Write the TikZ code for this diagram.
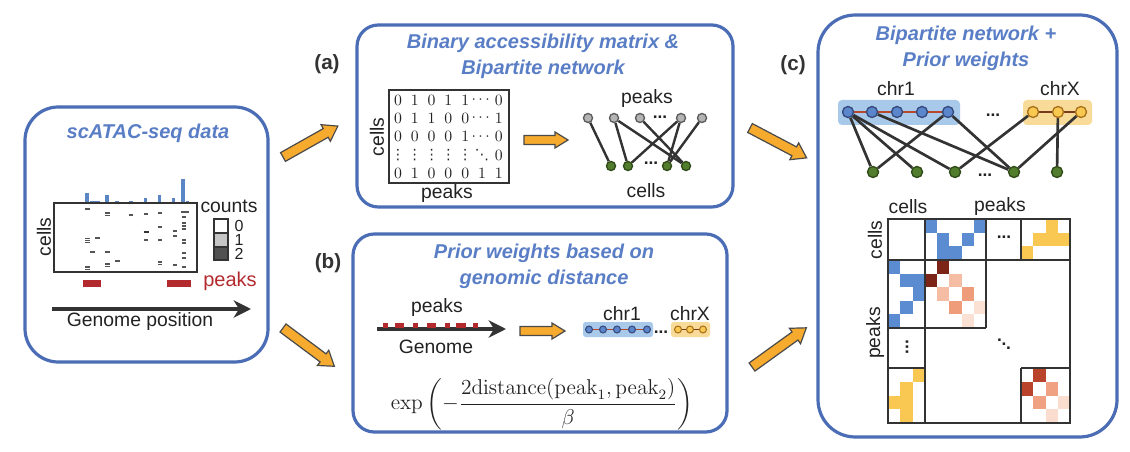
\documentclass[tikz,border=0pt]{standalone}
\usepackage{amsmath}
\usepackage[no-math]{fontspec}
\setmainfont{Liberation Sans}
\newfontfamily\djv{DejaVu Sans}
\usetikzlibrary{arrows.meta}
\pgfdeclarelayer{bg}
\pgfsetlayers{bg,main}
\definecolor{pblue}{HTML}{4A6DB5}
\definecolor{tblue}{HTML}{5A7EC5}
\definecolor{orng}{HTML}{F6AA2E}
\definecolor{arrline}{HTML}{4A4A4A}
\definecolor{dgray}{HTML}{333333}
\definecolor{txt}{HTML}{222222}
\definecolor{peakred}{HTML}{B22A2E}
\definecolor{lblue}{HTML}{A9C9EA}
\definecolor{lyel}{HTML}{F8DB98}
\definecolor{nblue}{HTML}{5B86CC}
\definecolor{nblueline}{HTML}{34497A}
\definecolor{nyel}{HTML}{F9C850}
\definecolor{nyelline}{HTML}{A8701C}
\definecolor{ngreen}{HTML}{527D2C}
\definecolor{ngreenline}{HTML}{2F4A18}
\definecolor{ngray}{HTML}{B4B4B4}
\definecolor{chainred}{HTML}{B8482C}
\definecolor{chainbrown}{HTML}{7A3A1A}
\definecolor{barblue}{HTML}{5B86C5}
\definecolor{cblue}{HTML}{5B8BD0}
\definecolor{cyel}{HTML}{F9C852}
\definecolor{hmA}{HTML}{7B2417}
\definecolor{hmB}{HTML}{F5BDA3}
\definecolor{hmC}{HTML}{EF9C7B}
\definecolor{hmD}{HTML}{FBE1D4}
\definecolor{hmE}{HTML}{B9432B}
\definecolor{hmF}{HTML}{EFA182}
\definecolor{hmG}{HTML}{FADDCF}
\definecolor{dashg}{HTML}{555555}
\newcommand{\vd}{\text{\djv\fontsize{9}{10}\selectfont ⋮}}
\newcommand{\dd}{\text{\djv\fontsize{9}{10}\selectfont ⋱}}
\newcommand{\bdd}{\hbox{\raise6pt\hbox{.}\kern-0.3pt\raise3pt\hbox{.}\kern-0.3pt\hbox{.}}}
\newcommand{\blockarr}[6]{%
  \begin{scope}[shift={(#1)},rotate=#2]
    \draw[barr] (0,-#4) -- ({#3-#6},-#4) -- ({#3-#6},-#5) -- (#3,0) -- ({#3-#6},#5) -- ({#3-#6},#4) -- (0,#4) -- cycle;
  \end{scope}}
\begin{document}
\begin{tikzpicture}[x=0.75pt,y=-0.75pt,
  panel/.style={draw=pblue, line width=2.4pt},
  ttl/.style={text=tblue, font=\fontsize{15}{19.5}\selectfont\bfseries\itshape, align=center, inner sep=0pt},
  lbl/.style={text=txt, font=\fontsize{14.5}{17}\selectfont, inner sep=0pt},
  plab/.style={text=dgray, font=\fontsize{15.5}{18}\selectfont\bfseries, inner sep=0pt},
  dig/.style={text=txt, font=\fontsize{10}{12}\selectfont, inner sep=0pt},
  dots/.style={text=txt, font=\fontsize{13}{14}\selectfont\bfseries, inner sep=0pt},
  barr/.style={draw=arrline, fill=orng, line width=0.9pt, line join=miter},
  edge/.style={draw=dgray, line width=1.8pt},
  edgec/.style={draw=dgray, line width=2pt},
  graynode/.style={circle, draw=dgray!80, fill=ngray, line width=1pt, minimum size=6.8pt, inner sep=0pt},
  greennode/.style={circle, draw=ngreenline, fill=ngreen, line width=1pt, minimum size=6.8pt, inner sep=0pt},
  greenbig/.style={circle, draw=ngreenline, fill=ngreen, line width=1pt, minimum size=8.3pt, inner sep=0pt},
  bluebig/.style={circle, draw=nblueline, fill=nblue, line width=1pt, minimum size=8.3pt, inner sep=0pt},
  yelbig/.style={circle, draw=nyelline, fill=nyel, line width=1pt, minimum size=8.3pt, inner sep=0pt},
  bluesmall/.style={circle, draw=nblueline, fill=nblue, line width=0.8pt, minimum size=5.2pt, inner sep=0pt},
  yelsmall/.style={circle, draw=nyelline, fill=nyel, line width=0.8pt, minimum size=5.2pt, inner sep=0pt},
  gridln/.style={draw=dgray, line width=2pt},
  hdash/.style={draw=dashg, line width=0.9pt},
  genarrow/.style={draw=dgray, line width=3pt, -{Stealth[length=13pt,width=13pt,inset=4pt]}}
]
\useasboundingbox (0,0) rectangle (1130,452);

% ---------------- panels ----------------
\draw[panel, rounded corners=25pt] (25,107) rectangle (268,362);
\draw[panel, rounded corners=16pt] (357,25) rectangle (733,207);
\draw[panel, rounded corners=16pt] (353,234) rectangle (727,432);
\draw[panel, rounded corners=28pt] (818,15) rectangle (1117,437);

% ---------------- big arrows ----------------
\coordinate (aA) at (283,157);
\coordinate (aB) at (283,328);
\coordinate (aC) at (750,128);
\coordinate (aD) at (752,367);
\blockarr{aA}{29.4}{63}{5}{9.5}{14}
\blockarr{aB}{-36.7}{64}{5}{9.5}{14}
\blockarr{aC}{-27.8}{64}{5}{9.5}{14}
\blockarr{aD}{35.8}{67}{5}{9.5}{14}
\node[plab] (la) at (327,64) {(a)};
\node[plab] (lb) at (328,263) {(b)};
\node[plab] (lc) at (793,65) {(c)};

% ---------------- left panel ----------------
\node[ttl] (t0) at (148,133) {scATAC-seq data};
\foreach \x/\h in {87/10,92/2,95.5/2,98.5/2,107/8,117/2,131/2,145.5/4.5,159.5/8,173.5/4.5,183/24,187.5/2}
  \fill[barblue] ({\x-1.6},203) rectangle ({\x+1.6},{203-\h});
\draw[dgray, line width=1.1pt] (54,203) rectangle (197,272);
\foreach \x/\y in {87.7/209,107.7/213,107.7/215.5,131/215,146/214,160/213,184/217,
  87.7/238.5,87.7/240.5,87.7/242.5,97.3/238,92.3/252,107.7/252,117.7/261,107.7/264,107.7/266.5,87.7/267,87.7/269.5,
  160/227,160/240,146/240,175/231,175/236,160/262,160/264.5,175/265,
  184/223,184/226,184/229,184/240,184/243,184/253,184/258,184/267}
  \draw[hdash] ({\x-2.3},\y) -- ({\x+2.3},\y);
\draw[draw=dgray, line width=1.4pt] (143.5,232) -- (148.5,232);
\draw[hdash] (181,212) -- (189,212);
\node[lbl, rotate=90] (c0) at (44,237) {cells};
\node[lbl] (cnt) at (229,206) {counts};
\draw[dgray, line width=0.9pt, fill=white] (214,219) rectangle (228,233);
\draw[dgray, line width=0.9pt, fill=gray!45] (214,233) rectangle (228,247);
\draw[dgray, line width=0.9pt, fill=dgray!85] (214,247) rectangle (228,260);
\node[lbl, font=\fontsize{12}{13}\selectfont] (v0) at (239,226) {0};
\node[lbl, font=\fontsize{12}{13}\selectfont] (v1) at (239,240) {1};
\node[lbl, font=\fontsize{12}{13}\selectfont] (v2) at (239,254) {2};
\fill[peakred] (83,280) rectangle (101,287);
\fill[peakred] (167,280) rectangle (191,287);
\node[lbl, text=peakred, font=\fontsize{15}{17}\selectfont] (pk0) at (230,281) {peaks};
\coordinate (g0s) at (52,309);
\coordinate (g0e) at (251,309);
\draw[genarrow] (g0s) -- (g0e);
\node[lbl] (gp) at (140,321) {Genome position};

% ---------------- panel (a) ----------------
\node[ttl] (ta) at (543,56) {Binary accessibility matrix \&\\Bipartite network};
\draw[dgray, line width=1.1pt] (389,90) rectangle (509,183);
\foreach \row [count=\r] in {{0,1,0,1,1,\cdots,0},{0,1,1,0,0,\cdots,1},{0,0,0,0,1,\cdots,0},{\vd,\vd,\vd,\vd,\vd,\dd,0},{0,1,0,0,0,1,1}}
  \foreach \e [count=\c] in \row
    \node[dig] (m\r\c) at ({398+(\c-1)*16.8},{100+(\r-1)*18.4}) {\scalebox{1.18}{$\e$}};
\node[lbl, rotate=90] (ca) at (377,137) {cells};
\node[lbl] (pa) at (447,194) {peaks};
\coordinate (sa) at (524,140);
\blockarr{sa}{0}{44}{4.5}{8}{13}
\node[lbl] (pna) at (647,99) {peaks};
\node[lbl] (cna) at (646,191) {cells};
\foreach \i/\x in {1/588,2/614,3/640,4/681,5/702}
  \node[graynode] (ap\i) at (\x,118) {};
\foreach \i/\x in {1/611,2/628,3/667,4/686}
  \node[greennode] (ac\i) at (\x,166) {};
\node[dots] (da1) at (660,117) {...};
\node[dots] (da2) at (651,163) {...};
\begin{pgfonlayer}{bg}
\foreach \p/\q in {1/1,2/2,2/4,3/4,4/2,4/3,5/3}
  \draw[edge] (ap\p) -- (ac\q);
\end{pgfonlayer}

% ---------------- panel (b) ----------------
\node[ttl] (tb) at (544,266.5) {Prior weights based on\\genomic distance};
\node[lbl] (pb) at (437,307) {peaks};
\coordinate (g1s) at (377,329);
\coordinate (g1e) at (506,329);
\draw[genarrow] (g1s) -- (g1e);
\foreach \a/\b in {383/388,395/404,413/418,427/436,445/450,456/466,473/478}
  \fill[peakred] (\a,323) rectangle (\b,327.5);
\node[lbl] (gb) at (436,347) {Genome};
\coordinate (sb) at (520,331);
\blockarr{sb}{0}{45}{4.5}{8}{13}
\node[lbl] (chb1) at (622,314) {chr1};
\node[lbl] (chbx) at (690,314) {chrX};
\foreach \i/\x in {1/589,2/603,3/617,4/632,5/647}
  \node[bluesmall] (bb\i) at (\x,329.5) {};
\foreach \i/\x in {1/678,2/690,3/703}
  \node[yelsmall] (bx\i) at (\x,329.5) {};
\node[dots] (db) at (661,332) {...};
\begin{pgfonlayer}{bg}
\fill[lblue, rounded corners=2pt] (583,322) rectangle (653,337);
\fill[lyel, rounded corners=2pt] (671,322) rectangle (710,337);
\draw[chainred, line width=1.3pt] (bb1) -- (bb5);
\draw[chainbrown, line width=1.3pt] (bx1) -- (bx3);
\end{pgfonlayer}
\node[inner sep=0pt, text=txt, font=\fontsize{12}{14}\selectfont] (fm) at (542,404)
  {\scalebox{1.34}{$\displaystyle\exp\left(-\frac{2\mathrm{distance}(\mathrm{peak}_1,\mathrm{peak}_2)}{\beta}\right)$}};

% ---------------- panel (c) ----------------
\node[ttl] (tc) at (966,48.5) {Bipartite network +\\Prior weights};
\node[lbl] (chc1) at (896,89) {chr1};
\node[lbl] (chcx) at (1060,89) {chrX};
\foreach \i/\x in {1/848,2/872,3/897,4/922,5/948}
  \node[bluebig] (cb\i) at (\x,112) {};
\foreach \i/\x in {1/1033,2/1058,3/1081}
  \node[yelbig] (cx\i) at (\x,112) {};
\foreach \i/\x in {1/873,2/917,3/955,4/1014,5/1057}
  \node[greenbig] (cc\i) at (\x,172) {};
\node[dots] (dc1) at (993,115) {...};
\node[dots] (dc2) at (985,175) {...};
\begin{pgfonlayer}{bg}
\fill[lblue, rounded corners=3pt] (838,100) rectangle (960,125);
\fill[lyel, rounded corners=3pt] (1023,100) rectangle (1092,125);
\draw[chainred, line width=1.5pt] (cb1) -- (cb5);
\draw[chainbrown, line width=1.5pt] (cx1) -- (cx3);
\foreach \a/\b in {cb1/cc1,cb1/cc2,cb1/cc3,cb2/cc4,cb5/cc1,cb5/cc4,cx1/cc3,cx3/cc4,cx2/cc5}
  \draw[edgec] (\a) -- (\b);
\end{pgfonlayer}
% matrix labels
\node[lbl] (mcl) at (908,207) {cells};
\node[lbl] (mpk) at (1000,207) {peaks};
\node[lbl, rotate=90] (mcv) at (875,240) {cells};
\node[lbl, rotate=90] (mpv) at (875,333) {peaks};
% coloured cells
\foreach \c/\r in {0/0,1/1,1/2,2/2,3/1,4/0}
  \fill[cblue] ({925+\c*12.2},{219+\r*13.667}) rectangle ++(12.2,13.667);
\foreach \c/\r in {2/0,1/1,2/1,3/1,0/2}
  \fill[cyel] ({1021+\c*12.25},{219+\r*13.667}) rectangle ++(12.25,13.667);
\foreach \c/\r in {0/0,1/1,2/1,2/2,1/3,0/4}
  \fill[cblue] ({888+\c*12.333},{260+\r*13.6}) rectangle ++(12.333,13.6);
\foreach \c/\r in {2/0,1/1,1/2,1/3,0/2}
  \fill[cyel] ({888+\c*12.333},{368+\r*13.75}) rectangle ++(12.333,13.75);
\foreach \c/\r/\col in {1/0/hmA,0/1/hmA,2/1/hmB,1/2/hmB,3/2/hmC,2/3/hmC,4/3/hmD,3/4/hmD}
  \fill[\col] ({925+\c*12.2},{260+\r*13.6}) rectangle ++(12.2,13.6);
\foreach \c/\r/\col in {1/0/hmE,0/1/hmE,2/1/hmF,1/2/hmF,3/2/hmG,2/3/hmG}
  \fill[\col] ({1021+\c*12.25},{368+\r*13.75}) rectangle ++(12.25,13.75);
% grid
\draw[gridln] (888,219) rectangle (1070,423);
\draw[gridln] (925,219) -- (925,423);
\draw[gridln] (888,260) -- (1070,260);
\draw[gridln] (986,219) -- (986,328);
\draw[gridln] (888,328) -- (986,328);
\draw[gridln] (1021,219) -- (1021,260);
\draw[gridln] (1021,368) -- (1021,423);
\draw[gridln] (888,368) -- (925,368);
\draw[gridln] (1021,368) -- (1070,368);
\node[dots] (dm1) at (1004,237) {...};
\node[dots, rotate=90] (dm2) at (907,347) {...};
\node[dots] (dm3) at (1004,344) {\bdd};
\end{tikzpicture}
\end{document}
